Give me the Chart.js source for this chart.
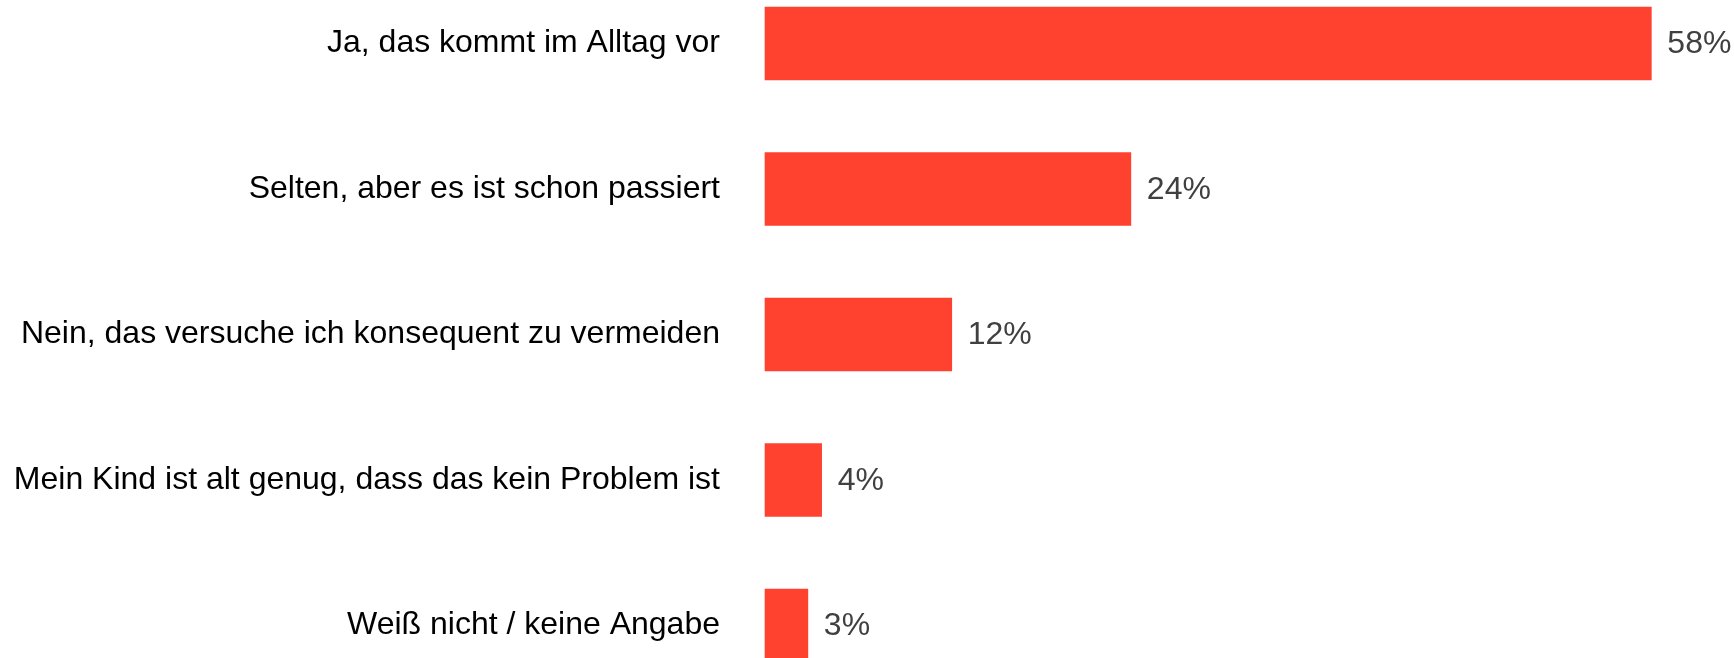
<!DOCTYPE html>
<html>
<head>
<meta charset="utf-8">
<script src="https://cdn.jsdelivr.net/npm/chart.js@4/dist/chart.umd.min.js"></script>
<style>
    html, body { margin: 0; padding: 0; background: #fff; }
    #chart_container { width: 1734px; height: 658px; position: relative; }
</style>
</head>
<body>
<div id="chart_container"><canvas id="answers_chart"></canvas></div>
<script>
var categories = [
    "Ja, das kommt im Alltag vor",
    "Selten, aber es ist schon passiert",
    "Nein, das versuche ich konsequent zu vermeiden",
    "Mein Kind ist alt genug, dass das kein Problem ist",
    "Weiß nicht / keine Angabe"
];
var shares = [57.9, 23.9, 12.2, 3.7, 2.8];
var shareLabels = ["58%", "24%", "12%", "4%", "3%"];

var BAR_COLOR = "rgb(255,66,48)";
var FONT = "'Liberation Sans', Arial, sans-serif";

// draws the percent text right of each bar
var valueLabels = {
    id: "valueLabels",
    afterDatasetsDraw: function (chart) {
        var ctx = chart.ctx;
        var meta = chart.getDatasetMeta(0);
        ctx.save();
        ctx.font = "32px " + FONT;
        ctx.fillStyle = "#404040";
        ctx.textAlign = "left";
        ctx.textBaseline = "middle";
        meta.data.forEach(function (bar, i) {
            ctx.fillText(shareLabels[i], bar.x + 16, bar.y + 1);
        });
        ctx.restore();
    }
};

var ctx = document.getElementById("answers_chart").getContext("2d");
var answers_chart = new Chart(ctx, {
    type: "bar",
    data: {
        labels: categories,
        datasets: [{
            data: shares,
            backgroundColor: BAR_COLOR,
            borderWidth: 0,
            barThickness: 73,
            clip: false
        }]
    },
    options: {
        indexAxis: "y",
        responsive: true,
        maintainAspectRatio: false,
        animation: false,
        layout: {
            padding: { top: 43.5, bottom: 32.5, left: 0, right: 0 }
        },
        plugins: {
            legend: { display: false },
            title: { display: false },
            tooltip: { enabled: false }
        },
        scales: {
            x: {
                display: false,
                min: 0,
                max: 63.3
            },
            y: {
                offset: false,
                grid: { display: false, drawTicks: false },
                border: { display: false },
                ticks: {
                    padding: 45,
                    color: "#000",
                    font: { family: FONT, size: 32 }
                },
                afterFit: function (scale) {
                    scale.width = 765;
                    scale.paddingTop = 0;
                    scale.paddingBottom = 0;
                }
            }
        }
    },
    plugins: [valueLabels]
});
</script>
</body>
</html>
